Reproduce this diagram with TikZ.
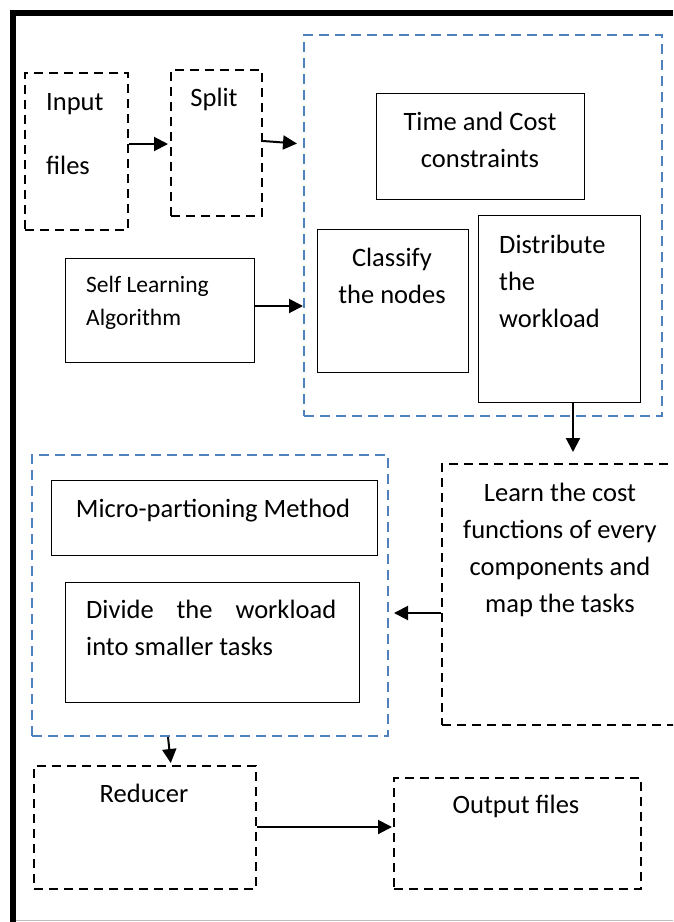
\documentclass[tikz,border=0pt]{standalone}
\usepackage{fontspec}
\setmainfont{Carlito}
\usetikzlibrary{arrows.meta}
\definecolor{groupblue}{RGB}{79,129,189}
\definecolor{edgegray}{RGB}{190,190,190}
\tikzset{
  solidbox/.style={draw=black, line width=1.4pt, rectangle, inner sep=0pt, anchor=north west},
  dashbox/.style={draw=black, line width=2.2pt, dash pattern=on 9pt off 6pt, rectangle, inner sep=0pt, anchor=north west},
  groupbox/.style={draw=groupblue, line width=2pt, dash pattern=on 10pt off 6pt, rectangle, inner sep=0pt, anchor=north west},
  txt/.style={inner sep=0pt, font=\fontsize{26.5}{37}\selectfont},
  smalltxt/.style={inner sep=0pt, font=\fontsize{23.5}{33}\selectfont},
  flow/.style={line width=2pt, -{Triangle[length=14pt,width=14pt]}},
}
\begin{document}
\begin{tikzpicture}[x=1pt,y=-1pt]
\clip (0,0) rectangle (673,922);
\fill[white] (0,0) rectangle (673,922);
% page frame
\draw[line width=6pt] (13,922) -- (13,12.5) -- (673,12.5);
\draw[edgegray, line width=1.5pt] (16,920.5) -- (673,920.5);

% groups
\node[groupbox, minimum width=358pt, minimum height=381pt] (grpA) at (303,34) {};
\node[groupbox, minimum width=356pt, minimum height=281pt] (grpB) at (31,454) {};

% boxes
\node[dashbox, minimum width=103pt, minimum height=157pt] (input) at (24,72) {};
\node[dashbox, minimum width=91pt, minimum height=146pt] (split) at (170,69) {};
\node[solidbox, minimum width=208pt, minimum height=106pt] (timecost) at (376,93) {};
\node[solidbox, minimum width=151pt, minimum height=143pt] (classify) at (317,229) {};
\node[solidbox, minimum width=162pt, minimum height=187pt] (distr) at (478,215) {};
\node[solidbox, minimum width=189pt, minimum height=104pt] (selflearn) at (65,258) {};
\node[dashbox, minimum width=260pt, minimum height=261pt] (learn) at (441,463) {};
\node[solidbox, minimum width=326pt, minimum height=75pt] (micro) at (51,480) {};
\node[solidbox, minimum width=294pt, minimum height=120pt] (divide) at (65,582) {};
\node[dashbox, minimum width=222pt, minimum height=123pt] (reducer) at (33,765) {};
\node[dashbox, minimum width=247pt, minimum height=111pt] (output) at (393,777) {};

% labels (multi-line labels are anchored on their last baseline)
\node[txt, anchor=base west] (inputA) at (46,110) {Input};
\node[txt, anchor=base west] (inputB) at (46,174) {files};
\node[txt, anchor=base] (splitT) at (214,106) {Split};
\node[txt, anchor=base, align=center] (timecostT) at (480,167) {Time and Cost\\constraints};
\node[txt, anchor=base, align=center] (classifyT) at (392,303) {Classify\\the nodes};
\node[txt, anchor=base west, align=left] (distrT) at (499,327) {Distribute\\the\\workload};
\node[smalltxt, anchor=base west, align=left] (selflearnT) at (86,325) {Self Learning\\Algorithm};
\node[txt, anchor=base] (microT) at (213,517) {Micro-partioning Method};
\node[txt, anchor=base west, text width=250pt, align=justify] (divideT) at (86,618) {Divide the workload into smaller tasks};
\node[txt, anchor=base, align=center] (learnT) at (560,612) {Learn the cost\\functions of every\\components and\\map the tasks};
\node[txt, anchor=base] (reducerT) at (144,802) {Reducer};
\node[txt, anchor=base] (outputT) at (516,813) {Output files};

% connectors
\draw[flow, shorten >=2pt] (input.east |- 0,144) -- (split.west |- 0,144);
\draw[flow, shorten >=6pt] (split.east |- 0,141) -- (grpA.west |- 0,144);
\draw[flow] (selflearn.east |- 0,306) -- (grpA.west |- 0,306);
\draw[flow, shorten >=11pt] (573,0 |- distr.south) -- (573,0 |- learn.north);
\draw[flow, shorten >=5pt] (learn.west |- 0,613) -- (grpB.east |- 0,613);
\draw[flow, shorten >=2pt] (168,0 |- grpB.south) -- (171,0 |- reducer.north);
\draw[flow, shorten >=1pt] (reducer.east |- 0,827) -- (output.west |- 0,827);
\end{tikzpicture}
\end{document}
